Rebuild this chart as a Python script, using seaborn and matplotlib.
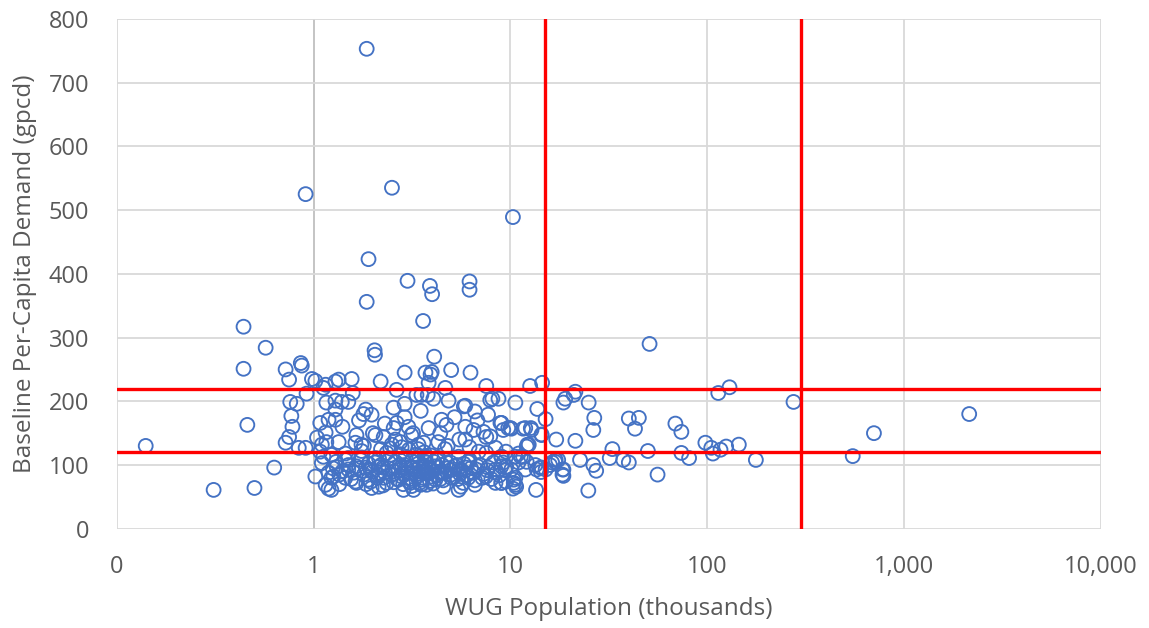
import matplotlib
matplotlib.use("Agg")
import matplotlib.pyplot as plt
import seaborn as sns
import pandas as pd
from matplotlib.ticker import FixedLocator, FixedFormatter, NullLocator

# WUG population (thousands) and baseline per-capita demand (gpcd)
pop_k = [
    # sparse / outliers
    0.14, 0.31, 0.50, 0.44, 0.44, 0.46, 0.57, 0.63, 0.91, 1.86,
    2.5, 1.9, 1.86, 3.0, 3.6, 3.9, 4.0, 6.2, 6.2, 10.3, 51,
    # left shoulder (0.7 - 1.3)
    0.72, 0.86, 0.87, 0.75, 0.98, 1.02, 1.15, 1.12, 1.29, 0.92,
    0.76, 0.82, 1.16, 1.29, 0.77, 0.78, 0.75, 0.72, 0.84, 0.91,
    1.08, 1.19, 1.29, 1.04, 1.15, 1.16, 1.10, 1.08, 1.12, 1.10,
    1.02, 1.19, 1.23, 1.15, 1.19,
    # 1.2 - 3.8
    2.04, 2.05, 1.34, 1.56, 2.19, 2.9, 3.7, 2.64, 3.33, 3.8,
    1.58, 1.39, 1.29, 1.5, 1.84, 1.97, 1.79, 2.55, 2.9, 2.64,
    2.55, 3.03, 3.14, 2.27, 2.06, 1.65, 1.63, 1.34, 1.75, 2.49,
    2.76, 3.41, 1.23, 1.5, 1.73, 2.06, 2.35, 2.93, 3.29, 3.7,
    1.31, 1.5, 1.84, 2.14, 2.6, 3.14, 3.6, 1.26, 1.45, 1.63,
    1.9, 2.27, 2.7, 3.1, 3.5, 1.23, 1.97, 2.14, 2.86, 3.22, 3.5,
    # 3.5 - 10
    4.1, 3.98, 3.93, 5.0, 6.27, 3.84, 4.67, 7.54, 3.53, 4.06,
    4.85, 8.1, 5.9, 6.6, 7.7, 4.47, 4.73, 3.84, 8.9, 9.75,
    5.9, 6.5, 7.3, 7.54, 5.9, 4.3, 3.62, 8.4, 9.5, 6.9,
    7.54, 5.45, 4.3, 3.7, 6.1, 4.95, 9.2, 8.4, 6.7, 5.6,
    4.47, 3.84, 10.1, 7.5, 6.1, 5.0, 4.16, 9.5, 8.4, 4.57,
    5.45, 5.6, 6.6, 10.3, 5.8, 7.9, 8.7, 9.0, 9.2, 9.0,
    9.5, 9.0,
    # dense core
    1.3, 1.4, 1.5, 1.6, 1.7, 1.8, 1.9, 2.0, 2.1, 2.2,
    2.3, 2.4, 2.5, 2.6, 2.7, 2.8, 2.9, 3.0, 3.1, 3.2,
    3.3, 3.4, 3.5, 3.6, 3.7, 3.8, 3.9, 4.0, 4.1, 4.2,
    4.3, 4.4, 4.5, 4.6, 4.8, 5.0, 5.2, 5.4, 5.6, 5.8,
    6.0, 6.3, 6.6, 7.0, 7.3, 7.7, 8.0, 8.5, 9.0, 1.45,
    1.75, 2.15, 2.45, 2.75, 3.05, 3.35, 3.65, 3.95, 4.25, 4.65,
    1.35, 1.65, 1.95, 2.25, 2.55, 2.85, 3.15, 3.45, 3.75, 4.05,
    1.25, 1.35, 1.45, 1.55, 1.65, 1.75, 1.85, 1.95, 2.05, 2.15,
    2.25, 2.35, 2.45, 2.55, 2.65, 2.75, 2.85, 2.95, 3.05, 3.15,
    3.25, 3.35, 3.45, 3.55, 3.65, 3.75, 3.85, 3.95, 4.15, 4.35,
    4.55, 4.75, 4.95, 5.15, 5.35, 5.55, 5.75, 5.95, 6.2, 6.5,
    6.8, 7.2, 7.6, 8.2, 8.8, 9.4,
    # mid band
    1.4, 1.7, 2.0, 2.3, 2.6, 2.9, 3.2, 3.5, 4.4, 5.2,
    5.5, 6.8, 7.9, 2.2, 2.8, 3.4, 4.8, 6.2, 1.8,
    # 10 - 30
    12.6, 14.5, 10.6, 13.7, 15.1, 19, 18.6, 21.4, 21, 25,
    26.7, 26.4, 17.1, 21.4, 22.6, 26.4, 27.3, 24.9, 13.5, 17,
    16.3, 18.4, 18.4, 14.4, 12.7, 11.9, 10.0, 12.4, 9.0, 10.6,
    11.3, 11.0, 12.1, 13.4, 14.2, 15.1, 15.9, 16.9, 17.5, 18.6,
    18.6, 14.3, 10.6, 10.4, 10.7, 11.9, 10.1, 11.6, 12.8, 12.2,
    14.4, 12.1, 11.0, 11.6, 9.0, 9.5, 10.4, 10.6, 9.0, 13.6, 14.4,
    # 30 and up
    40, 45, 43, 69, 74, 114, 130, 275, 98, 105,
    107, 117, 125, 145, 177, 74, 81, 56, 50, 33,
    32, 37.5, 40, 705, 550, 2150,
]
gpcd = [
    130, 61, 64, 317, 251, 163, 284, 96, 525, 753,
    535, 423, 356, 389, 326, 381, 368, 388, 375, 489, 290,
    250, 260, 256, 234, 235, 232, 226, 221, 231, 212,
    199, 196, 198, 201, 177, 160, 144, 135, 127, 127,
    166, 171, 171, 143, 151, 136, 132, 121, 113, 103,
    82, 88, 80, 69, 63,
    280, 273, 234, 235, 231, 245, 245, 218, 210, 210,
    213, 199, 187, 199, 187, 179, 180, 190, 196, 166,
    158, 160, 147, 144, 147, 147, 135, 136, 132, 132,
    136, 132, 116, 111, 108, 111, 119, 113, 116, 113,
    97, 93, 96, 97, 96, 97, 96, 82, 80, 74,
    77, 80, 77, 72, 77, 61, 64, 66, 61, 61, 69,
    270, 246, 242, 249, 245, 229, 221, 224, 210, 204,
    201, 204, 193, 184, 179, 171, 163, 158, 166, 158,
    160, 155, 152, 144, 140, 136, 135, 127, 121, 121,
    119, 113, 111, 105, 105, 104, 104, 93, 93, 93,
    89, 88, 93, 82, 80, 80, 77, 74, 72, 66,
    61, 66, 69, 63, 192, 202, 204, 166, 155, 113,
    97, 72,
    105, 90, 100, 88, 95, 85, 102, 90, 80, 100,
    88, 95, 85, 105, 92, 82, 100, 88, 78, 95,
    85, 102, 90, 80, 98, 86, 75, 92, 105, 84,
    96, 78, 100, 88, 95, 85, 98, 78, 90, 102,
    84, 95, 76, 100, 86, 96, 78, 88, 98, 118,
    122, 110, 126, 117, 124, 108, 120, 115, 111, 125,
    70, 72, 74, 68, 73, 70, 67, 72, 69, 71,
    95, 85, 108, 78, 98, 112, 70, 92, 104, 84,
    96, 72, 110, 90, 78, 100, 86, 96, 74, 106,
    92, 82, 97, 70, 88, 104, 94, 82, 98, 88,
    76, 104, 92, 82, 100, 86, 72, 96, 108, 88,
    98, 80, 92, 104, 84, 92,
    160, 170, 150, 165, 140, 175, 150, 185, 150, 175,
    140, 170, 145, 125, 128, 125, 130, 128, 130,
    224, 229, 198, 188, 172, 204, 198, 215, 210, 198,
    174, 155, 140, 138, 108, 100, 91, 60, 61, 108,
    104, 93, 85, 148, 158, 158, 158, 132, 166, 113,
    113, 104, 105, 100, 96, 93, 100, 105, 108, 93,
    83, 89, 80, 72, 66, 93, 157, 157, 155, 132,
    147, 129, 118, 113, 113, 97, 77, 69, 72, 93, 96,
    173, 174, 157, 165, 152, 213, 222, 199, 135, 127,
    118, 124, 129, 132, 108, 119, 111, 85, 122, 125,
    111, 108, 104, 150, 114, 180,
]

x_ticks = [0.1, 1, 10, 100, 1000, 10000]
x_tick_labels = ["0", "1", "10", "100", "1,000", "10,000"]
y_ticks = [0, 100, 200, 300, 400, 500, 600, 700, 800]
pop_limits = [15, 300]
gpcd_limits = [120, 220]

df = pd.DataFrame({"pop": pop_k, "gpcd": gpcd})

sns.set_style("white")
plt.rcParams["font.family"] = ["Open Sans", "DejaVu Sans"]

fig = plt.figure(figsize=(11.49, 6.28), dpi=100)
ax = fig.add_axes([0.1018, 0.158, 0.8560, 0.812])

grid_c = "#D9D9D9"
text_c = "#595959"

ax.set_xscale("log")
ax.set_xlim(0.1, 10000)
ax.set_ylim(0, 800)

# gridlines, the value-axis crossing at 1 drawn a bit darker
for xv in x_ticks:
    ax.axvline(xv, color="#BFBFBF" if xv == 1 else grid_c, lw=1.3, zorder=0)
for yv in y_ticks:
    ax.axhline(yv, color=grid_c, lw=1.3, zorder=0)

sns.scatterplot(data=df, x="pop", y="gpcd", ax=ax, marker="o", s=100,
                facecolor="none", edgecolor="#4472C4", linewidth=1.35, zorder=3)

# threshold lines
for xv in pop_limits:
    ax.axvline(xv, color="#FF0000", lw=2.4, zorder=4)
for yv in gpcd_limits:
    ax.axhline(yv, color="#FF0000", lw=2.4, zorder=4)

ax.xaxis.set_major_locator(FixedLocator(x_ticks))
ax.xaxis.set_major_formatter(FixedFormatter(x_tick_labels))
ax.xaxis.set_minor_locator(NullLocator())
ax.set_yticks(y_ticks)
ax.tick_params(axis="both", length=0, labelsize=17, labelcolor=text_c)
ax.tick_params(axis="x", pad=19)
ax.tick_params(axis="y", pad=20)

for sp in ax.spines.values():
    sp.set_visible(False)

ax.set_xlabel("WUG Population (thousands)", fontsize=17.5, color=text_c, labelpad=13)
ax.set_ylabel("Baseline Per-Capita Demand (gpcd)", fontsize=17.5, color=text_c, labelpad=8)

fig.savefig("out.png", dpi=100)
